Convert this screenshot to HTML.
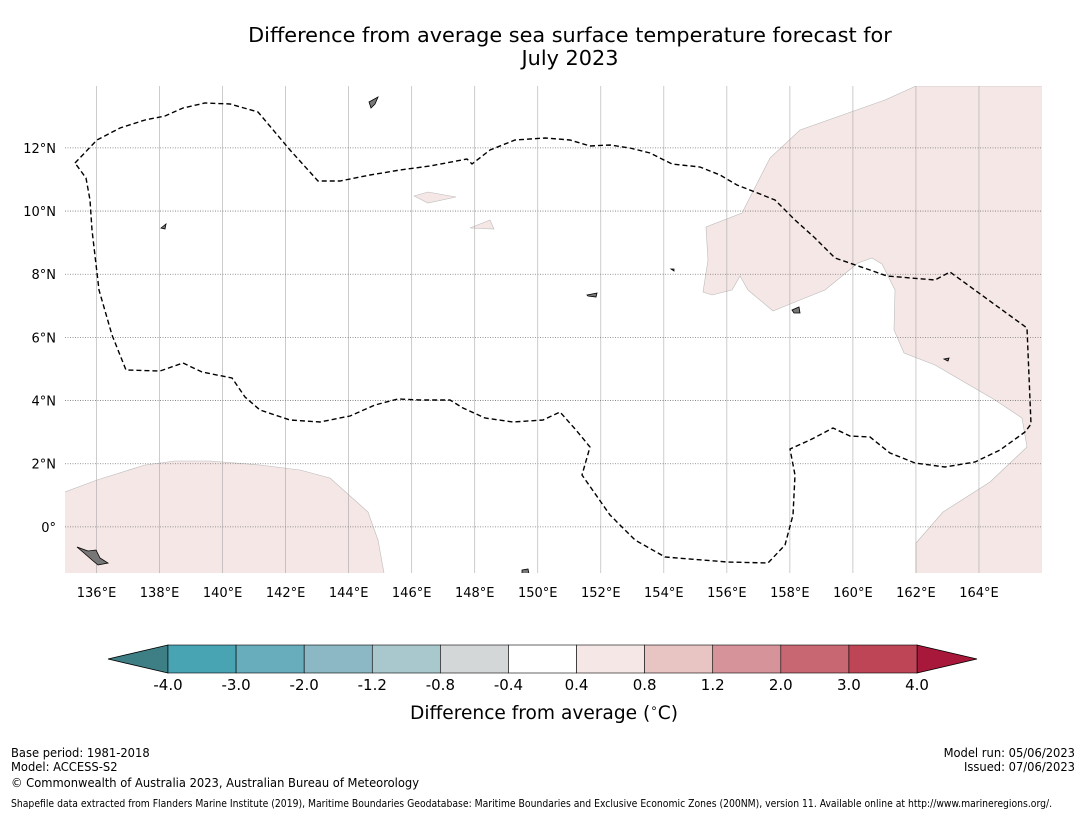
<!DOCTYPE html>
<html><head><meta charset="utf-8">
<style>
body{margin:0;background:#fff;width:1085px;height:816px;overflow:hidden;font-family:"DejaVu Sans","Liberation Sans",sans-serif;}
.ft{position:absolute;font-family:"DejaVu Sans Condensed","DejaVu Sans","Liberation Sans",sans-serif;font-stretch:condensed;color:#000;white-space:nowrap;}
</style></head>
<body>
<svg id="svg" width="1085" height="816" style="position:absolute;left:0;top:0">
<text x="570" y="42" text-anchor="middle" font-size="20.8" font-family="DejaVu Sans, Liberation Sans, sans-serif">Difference from average sea surface temperature forecast for</text>
<text x="570" y="65" text-anchor="middle" font-size="20.8" font-family="DejaVu Sans, Liberation Sans, sans-serif">July 2023</text>
<defs><clipPath id="mapclip"><rect x="65" y="86" width="977" height="487"/></clipPath></defs>
<g id="map" clip-path="url(#mapclip)">
<path fill="#f5e7e6" stroke="#bbb" stroke-width="0.6" d="M40,500 L65,492 L97,480 L145,465 L175,461 L210,461 L260,465 L300,470 L330,478 L368,512 L378,540 L384,573 L384,600 L40,600 Z"/>
<path fill="#f5e7e6" stroke="#bbb" stroke-width="0.6" d="M916,86 L1060,86 L1060,600 L916,600 L916,543 L943,512 L990,482 L1027,447 L1022,418 L995,400 L935,365 L904,353 L894,330 L895,290 L882,264 L872,258 L858,263 L825,290 L800,300 L773,311 L748,290 L740,276 L732,290 L712,295 L703,292 L708,260 L706,227 L742,213 L770,158 L800,130 L885,100 Z"/>
<path fill="#f5e7e6" stroke="#bbb" stroke-width="0.6" d="M414,196 L428,192 L456,197 L428,203 Z"/>
<path fill="#f5e7e6" stroke="#bbb" stroke-width="0.6" d="M470,228 L490,220 L494,229 Z"/>
<g id="grid"></g>
<path fill="none" stroke="#000" stroke-width="1.4" stroke-dasharray="5,3" d="M75,163 L97,140 L120,128 L145,120 L165,116 L183,108 L205,103 L230,104 L258,112 L290,150 L318,181 L340,181 L370,175 L400,170 L430,166 L467,159 L472,164 L490,150 L515,140 L545,138 L570,140 L590,146 L610,145 L630,148 L650,153 L672,164 L700,167 L720,175 L737,185 L755,192 L775,200 L795,220 L815,238 L835,258 L870,270 L887,276 L935,280 L950,272 L1027,328 L1031,424 L1025,432 L1000,450 L975,462 L945,467 L915,463 L890,453 L870,437 L850,436 L833,428 L810,440 L790,449 L795,475 L793,515 L785,545 L768,563 L727,562 L665,557 L635,540 L610,515 L582,475 L590,447 L576,430 L560,412 L543,420 L513,422 L485,418 L463,408 L450,400 L420,400 L398,399 L375,405 L350,416 L320,422 L290,420 L260,410 L245,397 L232,378 L202,372 L183,363 L160,371 L126,370 L112,335 L99,290 L92,230 L90,200 L86,178 Z"/>
<g fill="#777" stroke="#000" stroke-width="0.8">
<path d="M77,547 L88,551 L96,550 L100,558 L108,563 L98,565 L92,560 L84,553 Z"/>
<path d="M369,102 L378,97 L375,104 L371,108 Z"/>
<path d="M161,228 L166,224 L165,229 Z"/>
<path d="M792,310 L799,307 L800,313 L794,313 Z"/>
<path d="M522,570 L528,569 L529,574 L522,574 Z"/>
<path d="M587,295 L597,293 L596,297 L588,296 Z"/>
<path d="M944,359 L949,358 L948,361 Z"/>
<path d="M671,269 L674,269 L674,271 Z"/>
</g>
</g>
<g id="axes"></g>
<g id="cbar"></g>
<text x="544" y="719" text-anchor="middle" font-size="18.6" font-family="DejaVu Sans, Liberation Sans, sans-serif">Difference from average (<tspan font-size="12" dy="-7">∘</tspan><tspan dy="7">C)</tspan></text>
</svg>
<div class="ft" style="left:11px;top:747px;font-size:12.8px;line-height:13.5px">Base period: 1981-2018<br>Model: ACCESS-S2</div>
<div class="ft" style="left:11px;top:776px;font-size:12.8px">© Commonwealth of Australia 2023, Australian Bureau of Meteorology</div>
<div class="ft" style="right:10px;top:747px;font-size:12.8px;line-height:13.5px;text-align:right">Model run: 05/06/2023<br>Issued: 07/06/2023</div>
<div class="ft" style="left:11px;top:798px;font-size:10.3px">Shapefile data extracted from Flanders Marine Institute (2019), Maritime Boundaries Geodatabase: Maritime Boundaries and Exclusive Economic Zones (200NM), version 11. Available online at http://www.marineregions.org/.</div>
<script>
const lonTicks=[136,138,140,142,144,146,148,150,152,154,156,158,160,162,164];
const latTicks=[0,2,4,6,8,10,12];
const cbarBounds=["-4.0","-3.0","-2.0","-1.2","-0.8","-0.4","0.4","0.8","1.2","2.0","3.0","4.0"];
const cbarColors=["#48a3b3","#68adbb","#8bb8c4","#a9c8cd","#d3d7d8","#ffffff","#f5e7e6","#e8c4c2","#d7939a","#c86671","#bd4556"];
const underColor="#3e7f86", overColor="#a8183a";
const NS="http://www.w3.org/2000/svg";
const lonMin=135,lonMax=166,latMin=-1.46,latMax=13.96,X0=65,X1=1042,Y0=86,Y1=573;
const xS=l=>X0+(l-lonMin)/(lonMax-lonMin)*(X1-X0);
const yS=l=>Y1-(l-latMin)/(latMax-latMin)*(Y1-Y0);
function mk(t,a,p){const e=document.createElementNS(NS,t);for(const k in a)e.setAttribute(k,a[k]);p.appendChild(e);return e;}
const grid=document.getElementById('grid'),axes=document.getElementById('axes');
lonTicks.forEach(l=>{const x=xS(l);
 const g=mk('line',{x1:x,x2:x,y1:Y0,y2:Y1,stroke:'#999','stroke-width':0.7,'stroke-opacity':0.7},grid);
 
 
 const t=mk('text',{x:x,y:597,'text-anchor':'middle','font-size':13},axes);t.textContent=l+'°E';
 
 });
latTicks.forEach(l=>{const y=yS(l);
 const g=mk('line',{x1:X0,x2:X1,y1:y,y2:y,stroke:'#777','stroke-width':0.8,'stroke-dasharray':'1,1.5'},grid);
 
 
 const t=mk('text',{x:56,y:y+5,'text-anchor':'end','font-size':13},axes);t.textContent=l===0?'0°':l+'°N';
 
 });
const cb=document.getElementById('cbar');
const cx0=168,cx1=917,cy=645,ch=28,n=cbarColors.length,w=(cx1-cx0)/n;
const ua=mk('path',{d:`M${cx0},${cy} L108,${cy+ch/2} L${cx0},${cy+ch} Z`,fill:underColor,stroke:'#000','stroke-width':0.8},cb);


const oa=mk('path',{d:`M${cx1},${cy} L977,${cy+ch/2} L${cx1},${cy+ch} Z`,fill:overColor,stroke:'#000','stroke-width':0.8},cb);


cbarColors.forEach((c,i)=>{const r=mk('rect',{x:cx0+i*w,y:cy,width:w,height:ch,fill:c,stroke:'#000','stroke-width':0.6},cb);
 
 });
cbarBounds.forEach((b,i)=>{const t=mk('text',{x:cx0+i*w,y:690,'text-anchor':'middle','font-size':15},cb);t.textContent=b;
 
 });
</script>
</body></html>
